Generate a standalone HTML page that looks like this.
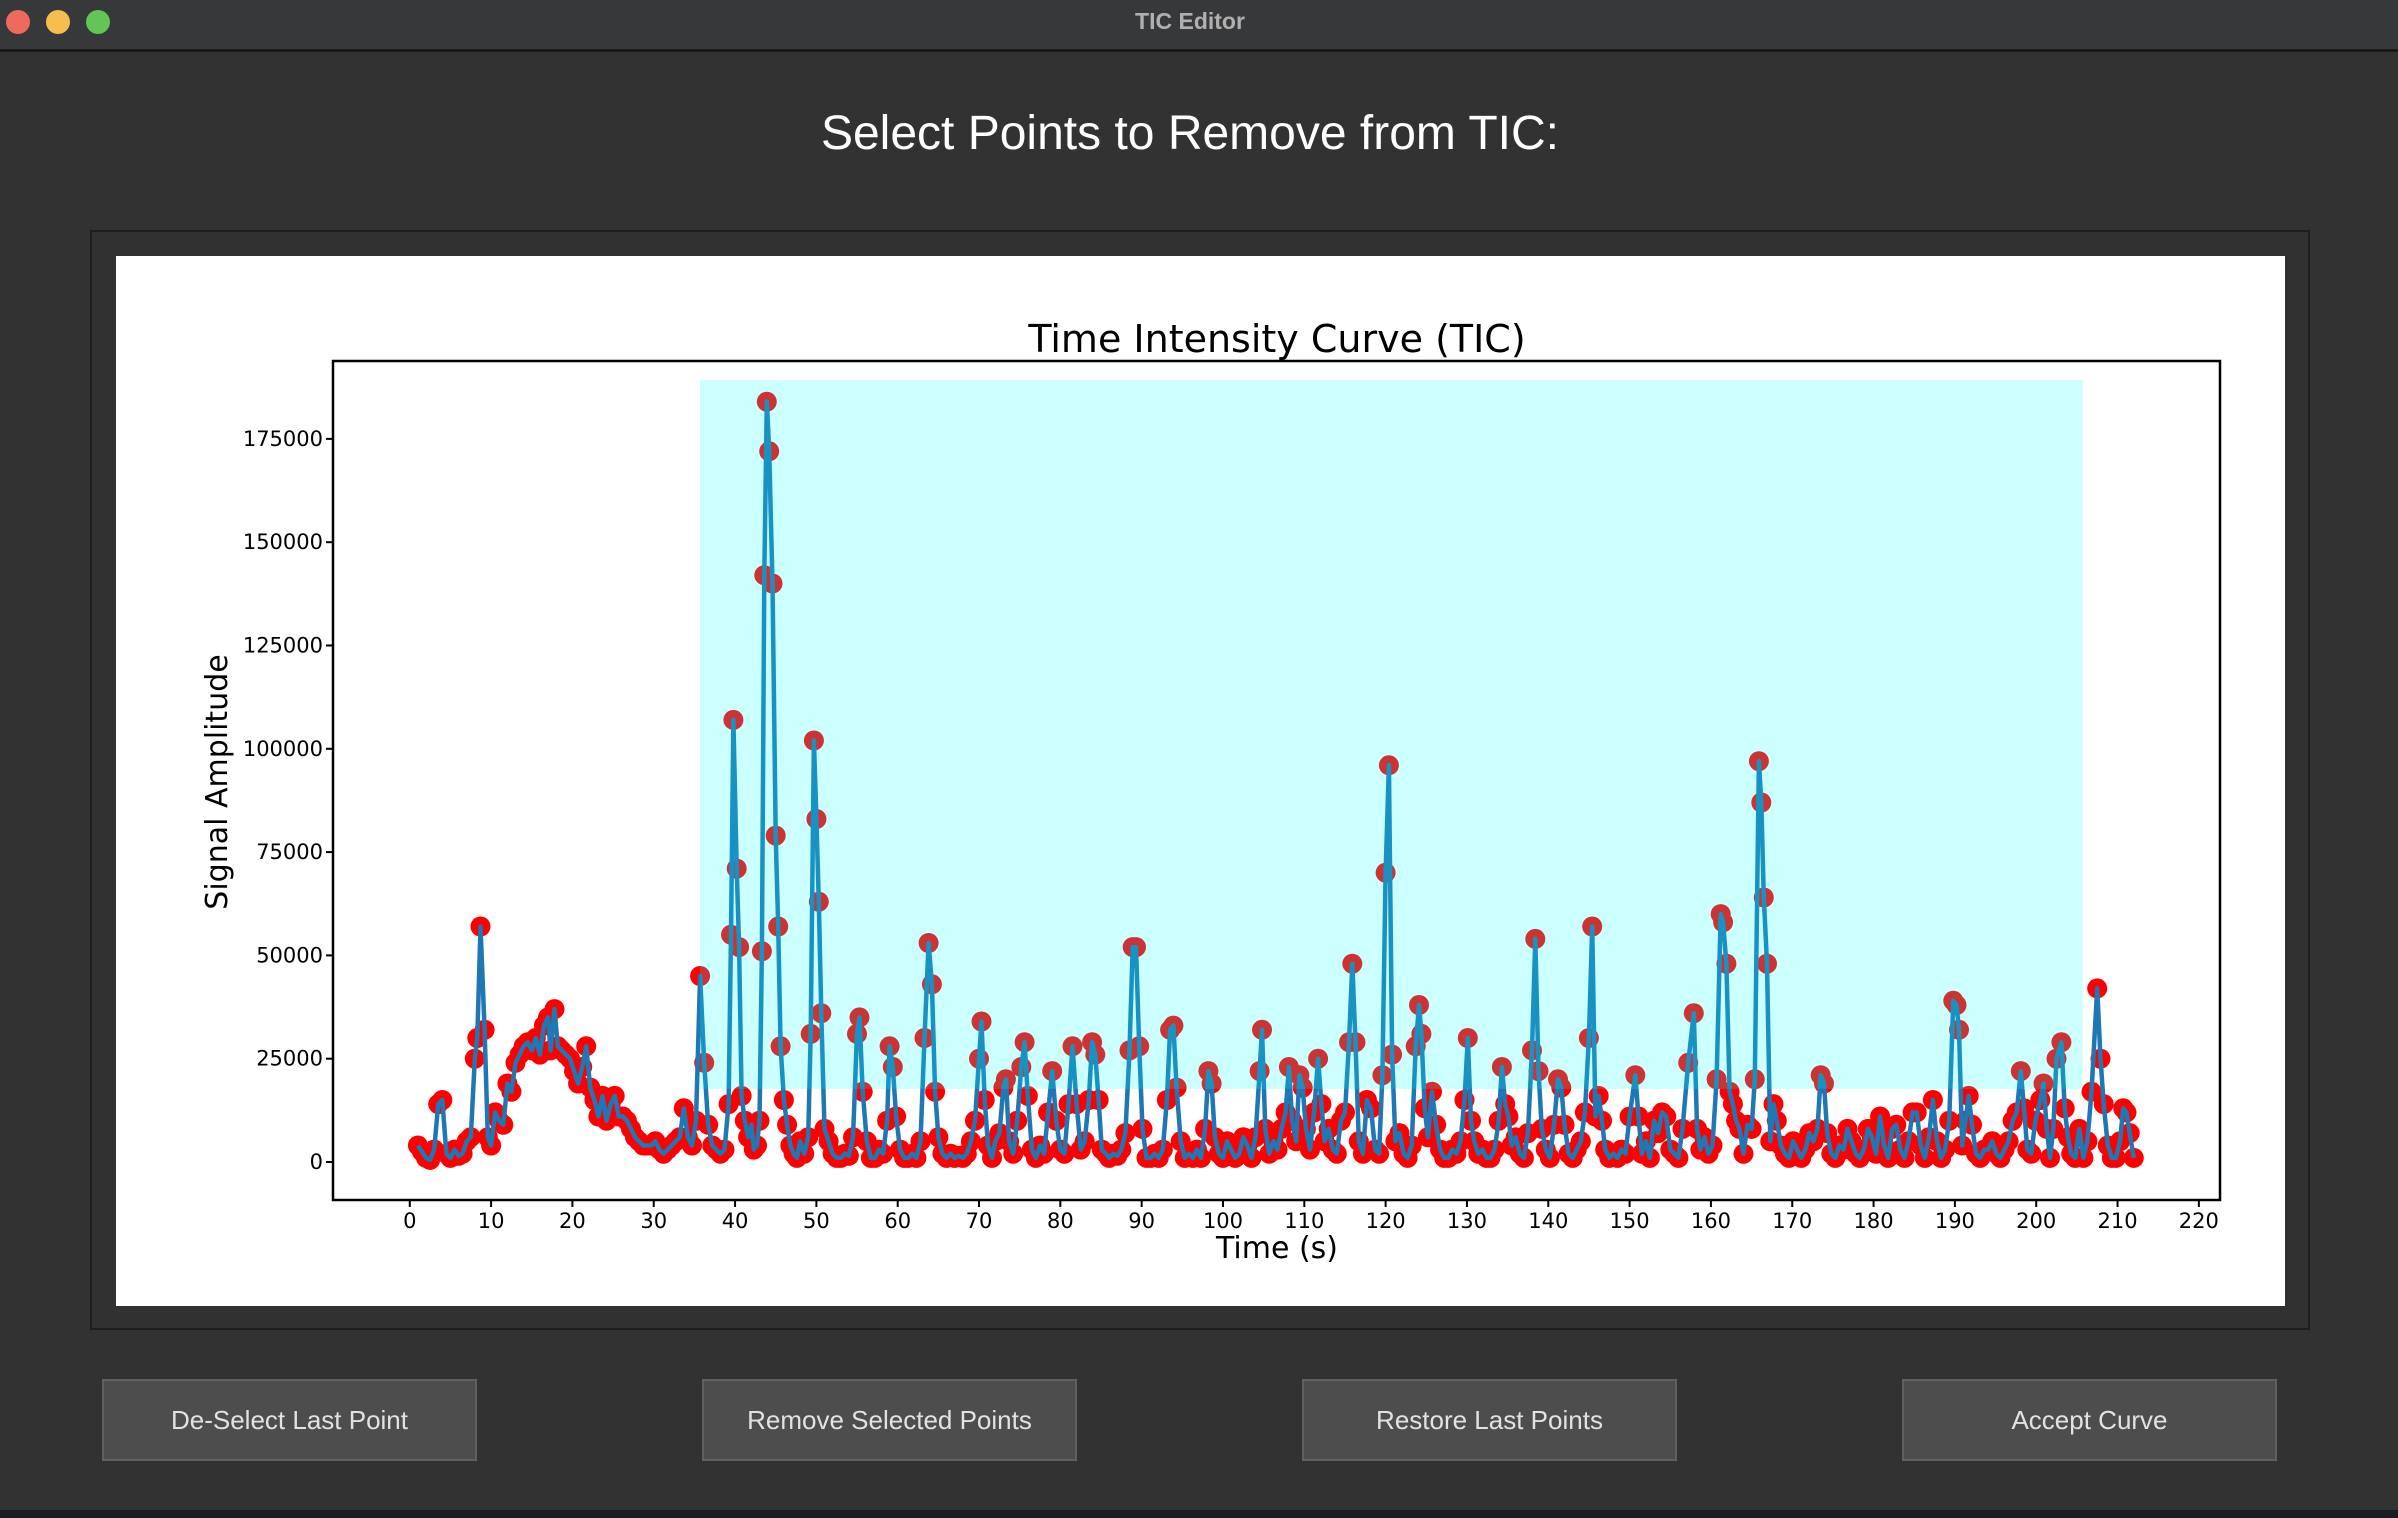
<!DOCTYPE html>
<html>
<head>
<meta charset="utf-8">
<style>
html,body{margin:0;padding:0;background:#323232;width:2398px;height:1518px;overflow:hidden}
svg{display:block}
.btn{cursor:pointer}
</style>
</head>
<body>
<svg id="root" width="2398" height="1518" viewBox="0 0 2398 1518" xmlns="http://www.w3.org/2000/svg" font-family="'DejaVu Sans','Liberation Sans',sans-serif">
  <rect x="0" y="0" width="2398" height="1518" fill="#323232"/>
  <rect x="0" y="1510" width="2398" height="8" fill="#1a1c22"/>
  <rect x="0" y="0" width="2398" height="50" fill="#37383a"/>
  <line x1="0" y1="50.5" x2="2398" y2="50.5" stroke="#111" stroke-width="2"/>
  <circle cx="18" cy="22" r="12" fill="#ee6a5f"/>
  <circle cx="58" cy="22" r="12" fill="#f5be4f"/>
  <circle cx="98" cy="22" r="12" fill="#62c554"/>
  <text x="1190" y="29" text-anchor="middle" font-family="'Liberation Sans',sans-serif" font-weight="bold" font-size="23" fill="#b0b0b0">TIC Editor</text>
  <text x="1190" y="149" text-anchor="middle" font-family="'Liberation Sans',sans-serif" font-size="48" fill="#ffffff">Select Points to Remove from TIC:</text>

  <rect x="91" y="231" width="2218" height="1098" fill="#313131" stroke="#1e1e1e" stroke-width="2"/>
  <rect x="116" y="256" width="2169" height="1050" fill="#ffffff"/>

  <g id="chart"></g>

  <g class="btn">
    <rect x="103" y="1380" width="373" height="80" fill="#4d4d4d" stroke="#606060" stroke-width="2"/>
    <text x="289.5" y="1429" text-anchor="middle" font-family="'Liberation Sans',sans-serif" font-size="26" fill="#e2e2e2">De-Select Last Point</text>
  </g>
  <g class="btn">
    <rect x="703" y="1380" width="373" height="80" fill="#4d4d4d" stroke="#606060" stroke-width="2"/>
    <text x="889.5" y="1429" text-anchor="middle" font-family="'Liberation Sans',sans-serif" font-size="26" fill="#e2e2e2">Remove Selected Points</text>
  </g>
  <g class="btn">
    <rect x="1303" y="1380" width="373" height="80" fill="#4d4d4d" stroke="#606060" stroke-width="2"/>
    <text x="1489.5" y="1429" text-anchor="middle" font-family="'Liberation Sans',sans-serif" font-size="26" fill="#e2e2e2">Restore Last Points</text>
  </g>
  <g class="btn">
    <rect x="1903" y="1380" width="373" height="80" fill="#4d4d4d" stroke="#606060" stroke-width="2"/>
    <text x="2089.5" y="1429" text-anchor="middle" font-family="'Liberation Sans',sans-serif" font-size="26" fill="#e2e2e2">Accept Curve</text>
  </g>
</svg>
<script>
const times = [1,1.5,2,2.5,3,3.5,4,4.5,5,5.5,6,6.5,7,7.5,8,8.3,8.7,9.2,9.6,10,10.5,11,11.5,12,12.5,13,13.5,14,14.5,15,15.5,16,16.5,17,17.3,17.8,18.2,18.7,19.2,19.7,20.2,20.7,21.2,21.7,22.2,22.7,23.2,23.7,24.2,24.7,25.2,25.7,26.2,26.7,27.2,27.7,28.2,28.7,29.2,29.7,30.2,30.7,31.2,31.7,32.2,32.7,33.2,33.7,34.2,34.7,35.2,35.7,36.2,36.7,37.2,37.7,38.2,38.7,39.2,39.5,39.8,40.2,40.5,40.8,41.2,41.6,42,42.3,42.7,43,43.3,43.6,43.9,44.2,44.6,45,45.3,45.6,46,46.4,46.8,47.2,47.6,48,48.5,49,49.3,49.7,50,50.3,50.6,51,51.5,52,52.5,53,53.5,54,54.5,55,55.3,55.7,56.2,56.7,57.2,57.7,58.2,58.7,59,59.4,59.8,60.3,60.8,61.3,61.8,62.3,62.8,63.3,63.8,64.2,64.6,65,65.5,66,66.5,67,67.5,68,68.5,69,69.5,70,70.3,70.7,71.1,71.6,72,72.5,73,73.3,73.7,74.2,74.7,75.2,75.6,76,76.5,77,77.5,78,78.5,79,79.5,80,80.5,81,81.5,82,82.5,83,83.5,83.9,84.3,84.7,85.1,85.6,86,86.5,87,87.5,88,88.5,88.9,89.3,89.7,90.1,90.6,91.1,91.6,92.1,92.6,93.1,93.5,93.9,94.3,94.8,95.3,95.8,96.3,96.8,97.3,97.8,98.2,98.6,99,99.5,100,100.5,101,101.5,102,102.5,103,103.5,104,104.5,104.8,105.2,105.7,106.2,106.7,107.2,107.7,108.1,108.5,109,109.4,109.8,110.2,110.7,111.2,111.7,112.1,112.5,113,113.5,114,114.5,115,115.5,115.9,116.3,116.7,117.2,117.7,118.2,118.7,119.2,119.6,120,120.4,120.8,121.2,121.7,122.2,122.7,123.2,123.7,124.1,124.4,124.8,125.2,125.7,126.2,126.7,127.2,127.7,128.2,128.7,129.2,129.7,130.1,130.5,130.9,131.4,131.9,132.4,132.9,133.4,133.9,134.3,134.7,135.1,135.5,136,136.5,137,137.5,138,138.4,138.8,139.2,139.7,140.2,140.7,141.2,141.6,142,142.5,143,143.5,144,144.5,145,145.4,145.8,146.2,146.6,147,147.5,148,148.5,149,149.5,150,150.7,151.1,151.5,152,152.5,153,153.5,154,154.5,155,155.5,156,156.5,157.2,157.9,158.3,158.7,159.2,159.7,160.2,160.7,161.2,161.5,161.9,162.3,162.7,163.1,163.5,164,164.5,165,165.4,165.9,166.2,166.5,166.9,167.3,167.7,168.1,168.6,169.1,169.6,170.1,170.6,171.1,171.6,172.1,172.6,173.1,173.5,173.9,174.3,174.8,175.3,175.8,176.3,176.8,177.3,177.8,178.3,178.8,179.3,179.8,180.3,180.8,181.3,181.8,182.3,182.8,183.3,183.8,184.3,184.8,185.3,185.8,186.3,186.8,187.3,187.8,188.3,188.8,189.3,189.8,190.2,190.5,190.9,191.3,191.7,192.1,192.6,193.1,193.6,194.1,194.6,195.1,195.6,196.1,196.6,197.1,197.6,198.1,198.5,198.9,199.4,199.9,200.5,200.9,201.3,201.7,202.1,202.5,203.1,203.5,203.9,204.3,204.8,205.3,205.8,206.3,206.8,207.5,207.9,208.3,208.8,209.3,209.8,210.3,210.7,211.1,211.5,212];
const signal = [4000,2500,1000,500,3000,14000,15000,2000,1000,3000,1500,2000,5000,6000,25000,30000,57000,32000,6000,4000,12000,10000,9000,19000,17000,24000,26000,28000,29000,27000,30000,26000,33000,35000,27000,37000,28000,27000,26000,25000,22000,19000,23000,28000,18000,15000,11000,16000,10000,14000,16000,11000,11000,10000,8000,6000,5000,4000,4000,4000,5000,3000,2000,3000,4000,5000,6000,13000,6000,4000,10000,45000,24000,9000,4000,3000,2000,3000,14000,55000,107000,71000,52000,16000,10000,6000,9000,3000,4000,10000,51000,142000,184000,172000,140000,79000,57000,28000,15000,9000,4000,2000,1000,5000,2000,6000,31000,102000,83000,63000,36000,8000,5000,2000,1000,1000,2000,1500,6000,31000,35000,17000,5000,1000,1000,3000,2000,10000,28000,23000,11000,3000,1000,1000,2000,1000,5000,30000,53000,43000,17000,6000,2000,1000,2000,1000,1500,1000,2000,5000,10000,25000,34000,15000,4000,1000,5000,7000,18000,20000,5000,2000,10000,23000,29000,16000,3000,1000,4000,2000,12000,22000,10000,3000,2000,14000,28000,14000,3000,5000,15000,29000,26000,15000,3000,2000,1000,2000,1500,3000,7000,27000,52000,52000,28000,8000,1000,1000,2000,1000,3000,15000,32000,33000,18000,5000,1000,2000,1000,3000,1000,8000,22000,19000,6000,2000,1000,5000,3000,1000,2000,6000,4000,1000,6000,22000,32000,8000,2000,5000,3000,8000,12000,23000,10000,5000,21000,18000,8000,3000,12000,25000,14000,5000,8000,3000,2000,10000,12000,29000,48000,29000,5000,2000,15000,13000,3000,2000,21000,70000,96000,26000,5000,7000,2000,1000,4000,28000,38000,31000,13000,6000,17000,9000,3000,1000,1000,3000,2000,5000,15000,30000,10000,5000,2000,3000,1000,1000,3000,10000,23000,14000,11000,4000,6000,2000,1000,7000,27000,54000,22000,8000,3000,1000,9000,20000,18000,9000,2000,1000,3000,5000,12000,30000,57000,11000,16000,10000,3000,1000,2000,1000,3000,2000,11000,21000,11000,2000,5000,1000,10000,7000,12000,11000,3000,2000,1000,8000,24000,36000,8000,3000,6000,2000,4000,20000,60000,58000,48000,17000,14000,10000,8000,2000,9000,8000,20000,97000,87000,64000,48000,5000,14000,10000,4000,2000,1000,5000,3000,1000,3000,7000,5000,8000,21000,19000,7000,2000,1000,4000,3000,8000,5000,2000,1000,3000,8000,6000,2000,11000,4000,1000,8000,9000,3000,1000,5000,12000,12000,4000,1000,6000,15000,5000,1000,3000,10000,39000,38000,32000,4000,10000,16000,9000,2000,1000,3000,3000,5000,2000,1000,3000,5000,10000,12000,22000,13000,3000,2000,10000,15000,19000,8000,1000,8000,25000,29000,13000,6000,2000,1000,8000,1000,5000,17000,42000,25000,14000,4000,1000,1000,5000,13000,12000,7000,1000];
const xTicks = [0,10,20,30,40,50,60,70,80,90,100,110,120,130,140,150,160,170,180,190,200,210,220];
const yTicks = [0,25000,50000,75000,100000,125000,150000,175000];
const yTickLabels = ["0","25000","50000","75000","100000","125000","150000","175000"];
const selectStart = [35.7];
const selectEnd = [205.7];
const selectLow = [17700];
const selectHigh = [189200];

const NS = "http://www.w3.org/2000/svg";
const AX = {left:333, top:361, right:2220, bottom:1200};
const X0 = -9.44, X1 = 222.6, Y0 = -9200, Y1 = 193850;
function sx(t){ return AX.left + (t - X0) / (X1 - X0) * (AX.right - AX.left); }
function sy(v){ return AX.bottom - (v - Y0) / (Y1 - Y0) * (AX.bottom - AX.top); }
function mk(tag, attrs, parent){
  const e = document.createElementNS(NS, tag);
  for (const k in attrs) e.setAttribute(k, attrs[k]);
  parent.appendChild(e);
  return e;
}
const chart = document.getElementById('chart');

const title = mk('text', {x:1277, y:352, 'text-anchor':'middle', 'font-size':38, fill:'#000'}, chart);
title.textContent = 'Time Intensity Curve (TIC)';



const clip = mk('clipPath', {id:'axclip'}, chart);
mk('rect', {x:AX.left, y:AX.top, width:AX.right-AX.left, height:AX.bottom-AX.top}, clip);

const pts = mk('g', {'clip-path':'url(#axclip)'}, chart);


for (let i = 0; i < times.length; i++) {
  const c = mk('circle', {cx:sx(times[i]).toFixed(1), cy:sy(signal[i]).toFixed(1), r:10, fill:'#ff0000'}, pts);
  
  
}
let d = '';
for (let i = 0; i < times.length; i++) d += (i ? 'L' : 'M') + sx(times[i]).toFixed(1) + ',' + sy(signal[i]).toFixed(1);
const line = mk('path', {d:d, fill:'none', stroke:'#1f77b4', 'stroke-width':4.5, 'stroke-linejoin':'round'}, chart);



const sel = mk('rect', {x:sx(selectStart[0]), y:sy(selectHigh[0]), width:sx(selectEnd[0])-sx(selectStart[0]), height:sy(selectLow[0])-sy(selectHigh[0]), fill:'#00ffff', 'fill-opacity':0.2}, chart);



const frame = mk('rect', {x:AX.left, y:AX.top, width:AX.right-AX.left, height:AX.bottom-AX.top, fill:'none', stroke:'#000', 'stroke-width':2.5}, chart);



const xg = mk('g', {}, chart);


xTicks.forEach(t => {
  const x = sx(t);
  mk('line', {x1:x, y1:AX.bottom, x2:x, y2:AX.bottom+7, stroke:'#000', 'stroke-width':2}, xg);
  const tx = mk('text', {x:x, y:AX.bottom+28, 'text-anchor':'middle', 'font-size':21, fill:'#000'}, xg);
  tx.textContent = String(t);
  
  
});
const xl = mk('text', {x:1277, y:1258, 'text-anchor':'middle', 'font-size':30, fill:'#000'}, chart);
xl.textContent = 'Time (s)';



const yg = mk('g', {}, chart);


yTicks.forEach((v, i) => {
  const y = sy(v);
  mk('line', {x1:AX.left-7, y1:y, x2:AX.left, y2:y, stroke:'#000', 'stroke-width':2}, yg);
  const tx = mk('text', {x:AX.left-10, y:y+7, 'text-anchor':'end', 'font-size':21, fill:'#000'}, yg);
  tx.textContent = yTickLabels[i];
  
  
});
const yl = mk('text', {x:0, y:0, 'text-anchor':'middle', 'font-size':30, fill:'#000', transform:'translate(227,782) rotate(-90)'}, chart);
yl.textContent = 'Signal Amplitude';


</script>
</body>
</html>
